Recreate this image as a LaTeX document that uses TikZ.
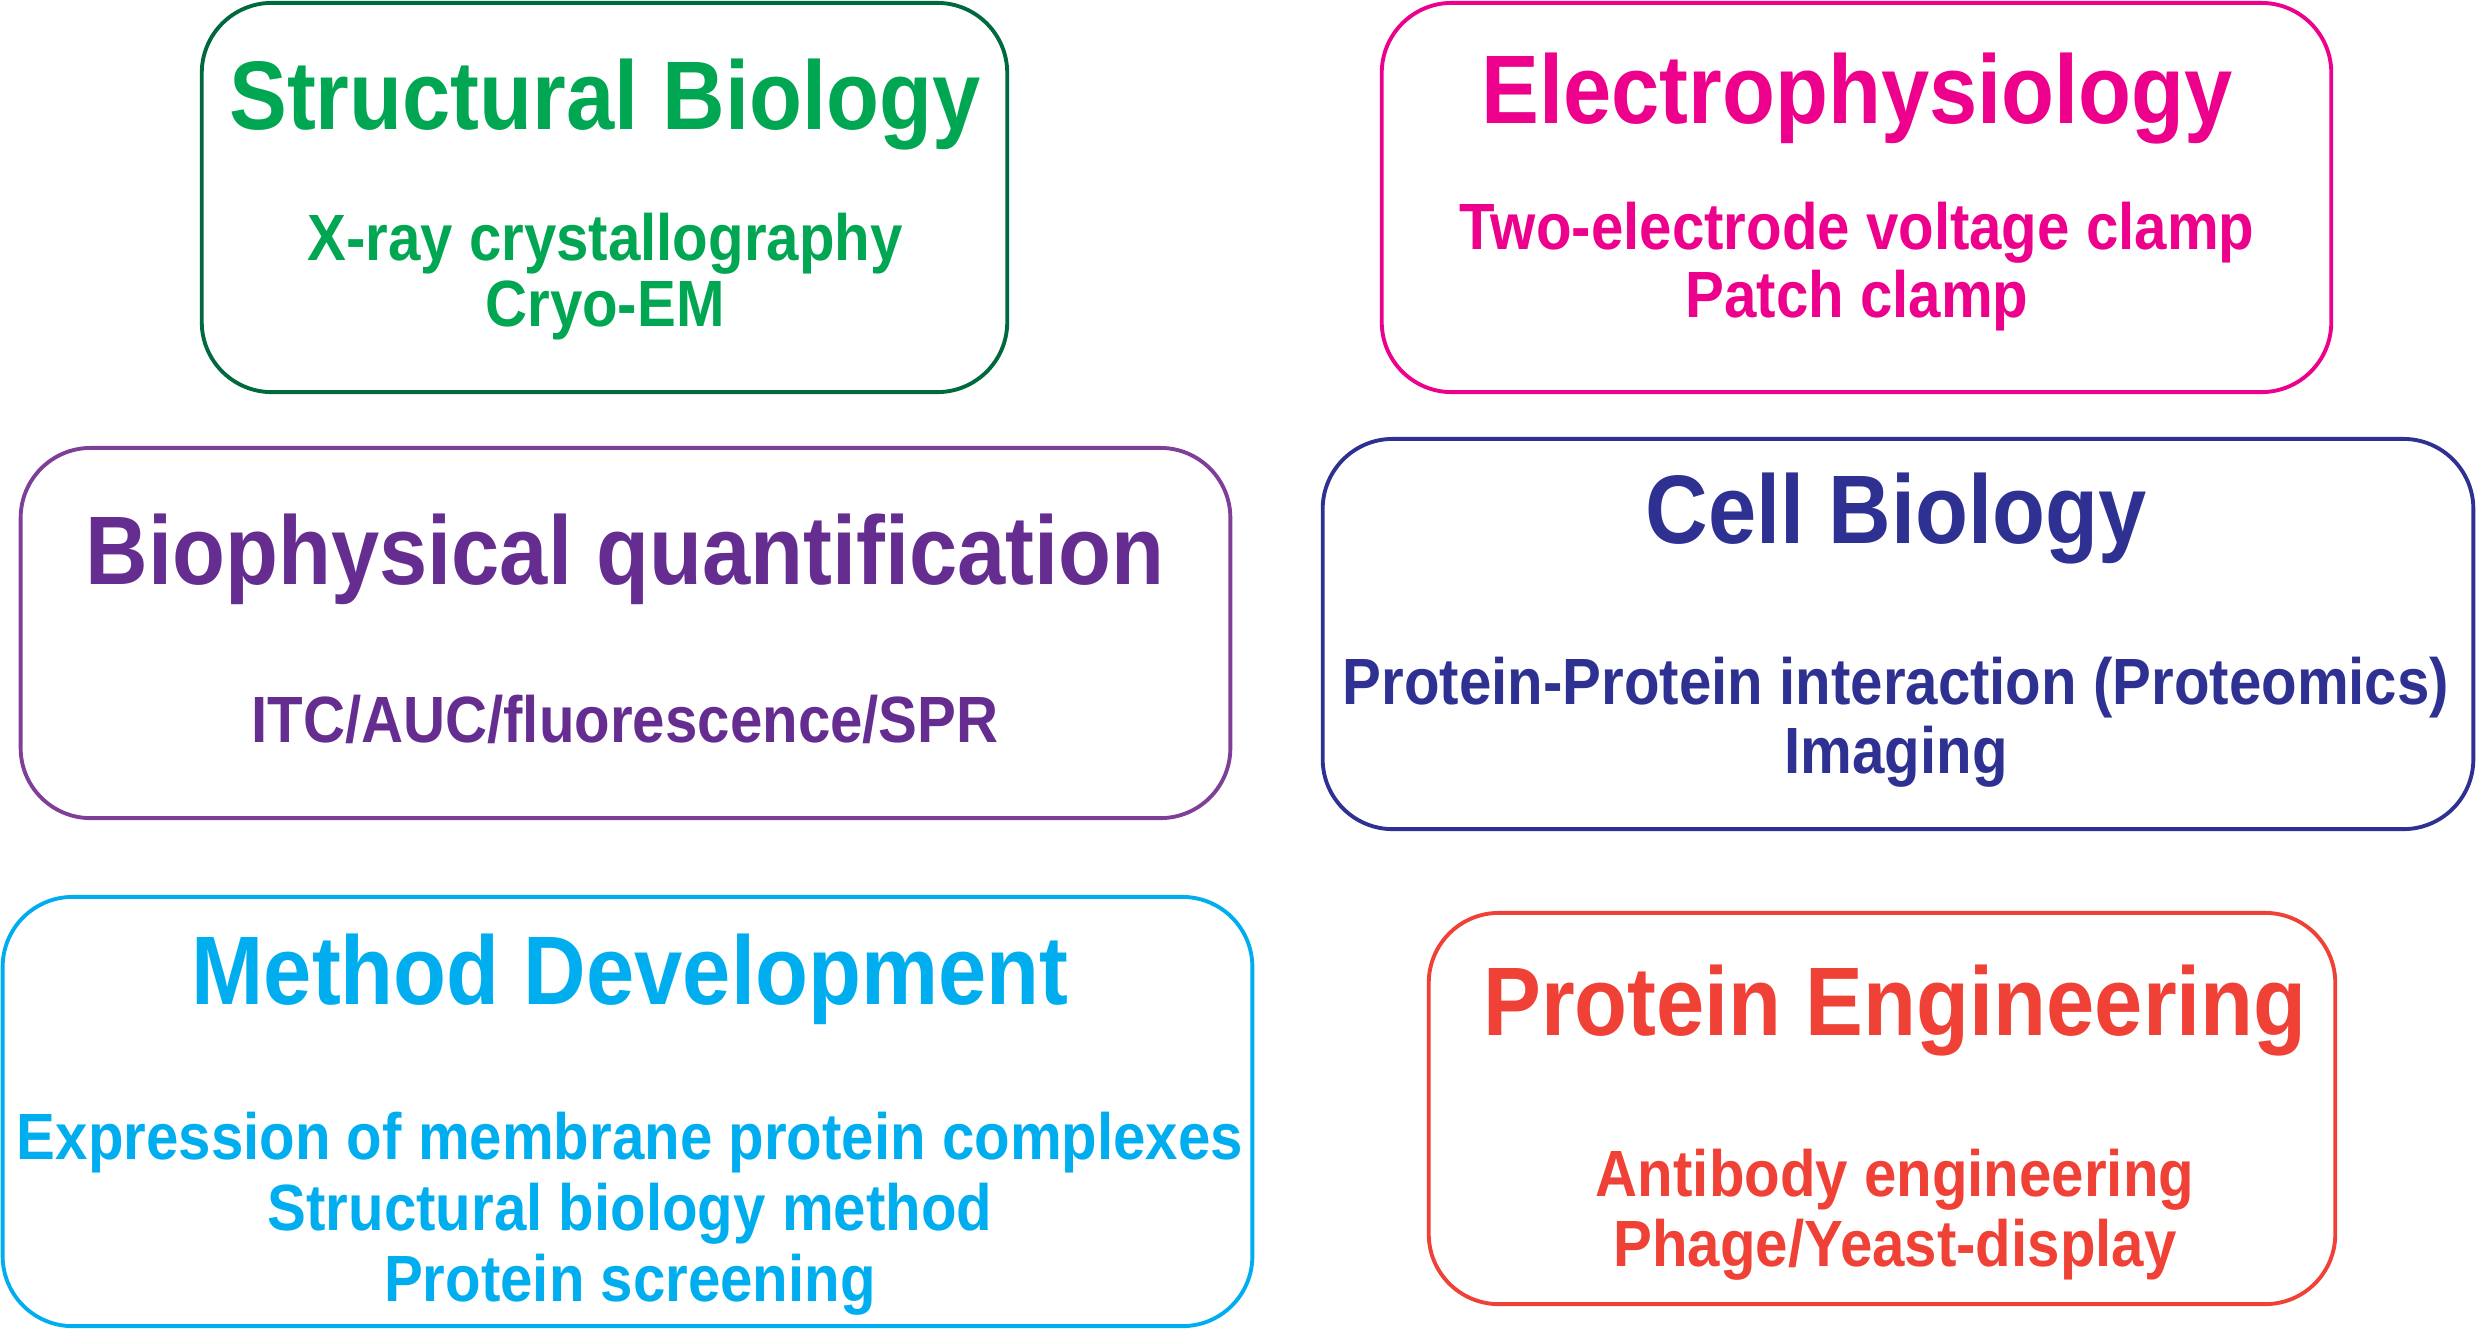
\documentclass[tikz,border=0pt]{standalone}
\usepackage{fontspec}
\usepackage{tikz}
\newfontfamily\labfont{Liberation Sans}[FakeStretch=0.89, Ligatures=NoCommon]
\definecolor{sbline}{RGB}{0,105,62}
\definecolor{sbtext}{RGB}{0,166,81}
\definecolor{epcol}{RGB}{236,0,140}
\definecolor{bpline}{RGB}{127,63,152}
\definecolor{bptext}{RGB}{102,45,145}
\definecolor{cbcol}{RGB}{46,49,146}
\definecolor{mdcol}{RGB}{0,174,239}
\definecolor{pecol}{RGB}{239,65,54}

\begin{document}
\begin{tikzpicture}[x=0.01cm, y=-0.01cm,
  box/.style={draw=#1, line width=1.1pt, rounded corners=0.7cm, inner sep=0pt},
  hd/.style={text=#1, anchor=base, inner sep=0pt, font=\labfont\bfseries\fontsize{27.7}{30}\selectfont},
  it/.style={text=#1, anchor=base, inner sep=0pt, font=\labfont\bfseries\fontsize{18.6}{22}\selectfont}]
  \useasboundingbox (0,0) rectangle (2476,1329);

  \node[box=sbline, minimum width=8.05cm, minimum height=3.89cm] (sb) at (604.5,197.5) {};
  \node[hd=sbtext] (sbh) at (605,129.5) {Structural Biology};
  \node[it=sbtext] (sb1) at (605,260.5) {X-ray crystallography};
  \node[it=sbtext] (sb2) at (605,326.9) {Cryo-EM};

  \node[box=epcol, minimum width=9.49cm, minimum height=3.89cm] (ep) at (1856.5,197.5) {};
  \node[hd=epcol] (eph) at (1857,123.2) {Electrophysiology};
  \node[it=epcol] (ep1) at (1857,249.5) {Two-electrode voltage clamp};
  \node[it=epcol] (ep2) at (1857,317.4) {Patch clamp};

  \node[box=bpline, minimum width=12.09cm, minimum height=3.70cm] (bp) at (625.5,633) {};
  \node[hd=bptext] (bph) at (625,584.2) {Biophysical quantification};
  \node[it=bptext] (bp1) at (625,742.1) {ITC/AUC/fluorescence/SPR};

  \node[box=cbcol, minimum width=11.50cm, minimum height=3.90cm] (cb) at (1898,634) {};
  \node[hd=cbcol] (cbh) at (1896,543.2) {Cell Biology};
  \node[it=cbcol] (cb1) at (1896,704.2) {Protein-Protein interaction (Proteomics)};
  \node[it=cbcol] (cb2) at (1896,773.7) {Imaging};

  \node[box=mdcol, minimum width=12.49cm, minimum height=4.29cm] (md) at (627.5,1111.5) {};
  \node[hd=mdcol] (mdh) at (630,1004.2) {Method Development};
  \node[it=mdcol] (md1) at (630,1159) {Expression of membrane protein complexes};
  \node[it=mdcol] (md2) at (630,1230) {Structural biology method};
  \node[it=mdcol] (md3) at (630,1301) {Protein screening};

  \node[box=pecol, minimum width=9.06cm, minimum height=3.91cm] (pe) at (1882,1108.5) {};
  \node[hd=pecol] (peh) at (1895,1035.8) {Protein Engineering};
  \node[it=pecol] (pe1) at (1895,1196.9) {Antibody engineering};
  \node[it=pecol] (pe2) at (1895,1266.4) {Phage/Yeast-display};
\end{tikzpicture}
\end{document}
